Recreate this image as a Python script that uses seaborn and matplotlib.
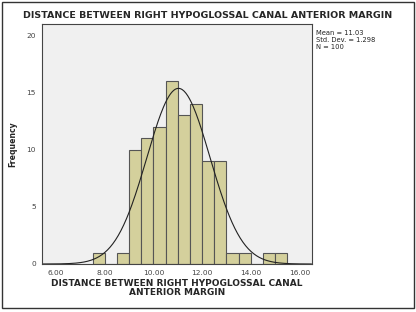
import numpy as np
import pandas as pd
import matplotlib.pyplot as plt
import seaborn as sns

# histogram data (bin width 0.5)
bin_left = [7.5, 8.5, 9.0, 9.5, 10.0, 10.5, 11.0, 11.5, 12.0, 12.5, 13.0, 13.5, 14.5, 15.0]
counts = [1, 1, 10, 11, 12, 16, 13, 14, 9, 9, 1, 1, 1, 1]
mean_val = 11.03
std_val = 1.298
n_val = 100
bin_width = 0.5
x_ticks = [6, 8, 10, 12, 14, 16]
y_ticks = [0, 5, 10, 15, 20]
title = 'DISTANCE BETWEEN RIGHT HYPOGLOSSAL CANAL ANTERIOR MARGIN'
xlabel = 'DISTANCE BETWEEN RIGHT HYPOGLOSSAL CANAL\nANTERIOR MARGIN'

df = pd.DataFrame({'value': np.array(bin_left) + bin_width / 2, 'count': counts})

sns.set_style('white')
fig = plt.figure(figsize=(4.16, 3.12), dpi=100)
ax = fig.add_axes([42 / 416, 1 - 264 / 312, (312 - 42) / 416, (264 - 24) / 312])
ax.set_facecolor('#f0f0f0')

sns.histplot(data=df, x='value', weights='count', binwidth=bin_width, binrange=(7.5, 15.5),
             ax=ax, color='#d4d09c', edgecolor='#555555', linewidth=0.8, alpha=1)

# fitted normal curve
xs = np.linspace(5.4, 16.5, 300)
ys = n_val * bin_width * np.exp(-0.5 * ((xs - mean_val) / std_val) ** 2) / (std_val * np.sqrt(2 * np.pi))
ax.plot(xs, ys, color='#222222', linewidth=0.8)

ax.set_xlim(5.42, 16.52)
ax.set_ylim(0, 21)
ax.set_xticks(x_ticks)
ax.set_xticklabels([f'{t:.2f}' for t in x_ticks])
ax.set_yticks(y_ticks)
ax.tick_params(axis='both', direction='out', length=3, width=0.8, labelsize=5.3,
               labelcolor='#444444', color='#444444', pad=1.5)
for s in ax.spines.values():
    s.set_color('#444444')
    s.set_linewidth(0.8)

ax.set_xlabel(xlabel, fontsize=6.5, fontweight='bold', labelpad=2, linespacing=0.95)
ax.set_ylabel('Frequency', fontsize=5.6, fontweight='bold')
ax.yaxis.set_label_coords(-25 / 270, 0.5)

fig.text(208 / 416, 1 - 15 / 312, title, ha='center', va='center',
         fontsize=6.8, fontweight='bold')
fig.text(316 / 416, 1 - 40 / 312, f'Mean = {mean_val}\nStd. Dev. = {std_val}\nN = {n_val}',
         ha='left', va='center', fontsize=4.9, linespacing=1.15, color='#222222')

# outer frame
fig.patches.append(plt.Rectangle((2 / 416, 4 / 312), 412 / 416, 306 / 312,
                                 transform=fig.transFigure, fill=False,
                                 edgecolor='#333333', linewidth=1))

fig.savefig('out.png', dpi=100)
